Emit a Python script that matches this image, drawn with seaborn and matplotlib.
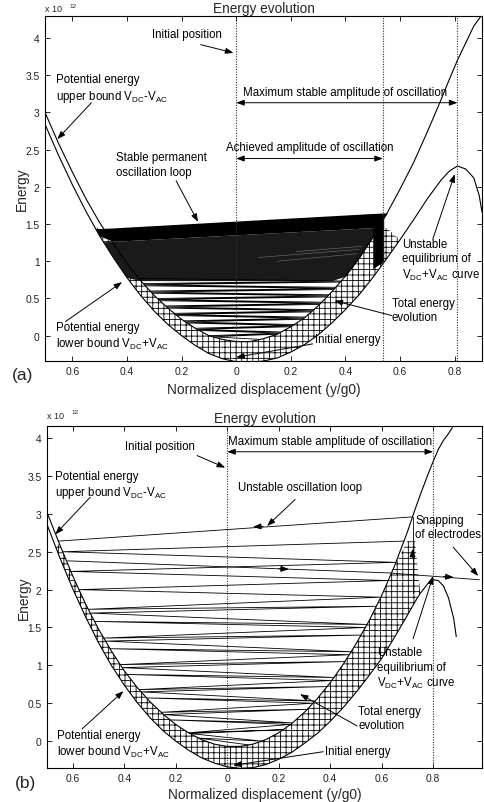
import numpy as np
import matplotlib
matplotlib.use("Agg")
import matplotlib.pyplot as plt
import seaborn as sns

# ---------------- data: panel (a) ----------------
xa = [-0.70, -0.65, -0.60, -0.55, -0.50, -0.45, -0.40, -0.35, -0.30, -0.25,
      -0.20, -0.15, -0.10, -0.05, 0.00, 0.05, 0.10, 0.15, 0.20, 0.25,
      0.30, 0.35, 0.40, 0.45, 0.50, 0.55, 0.60, 0.65, 0.70, 0.75,
      0.78, 0.81, 0.84, 0.87, 0.89, 0.90]
ua_low = [2.84, 2.42, 2.03, 1.67, 1.34, 1.05, 0.78, 0.54, 0.33, 0.15,
          0.00, -0.13, -0.24, -0.31, -0.35, -0.36, -0.34, -0.30, -0.22, -0.12,
          0.01, 0.17, 0.35, 0.55, 0.78, 1.03, 1.29, 1.56, 1.84, 2.09,
          2.21, 2.28, 2.24, 2.12, 1.88, 1.66]
ua_up = [3.00, 2.58, 2.20, 1.84, 1.52, 1.24, 0.97, 0.74, 0.54, 0.37,
         0.22, 0.10, 0.00, -0.05, -0.08, -0.08, -0.04, 0.02, 0.12, 0.24,
         0.40, 0.59, 0.80, 1.04, 1.32, 1.63, 1.97, 2.33, 2.74, 3.17,
         3.44, 3.70, 3.93, 4.16, 4.26, 4.31]
traj_a = [-0.05, -0.015, 0.02, 0.00, 0.035, 0.07, 0.05, 0.085, 0.12, 0.10,
          0.135, 0.17, 0.15, 0.185, 0.22, 0.20, 0.235, 0.27, 0.25, 0.285,
          0.32, 0.30, 0.335, 0.37, 0.35, 0.385, 0.42, 0.40, 0.435, 0.47,
          0.45, 0.485, 0.52, 0.50, 0.535, 0.57, 0.55, 0.585, 0.62, 0.60,
          0.635, 0.67, 0.65, 0.685, 0.72, 0.70, 0.735, 0.77]
loop_x = [-0.49, 0.54]
loop_top = [1.44, 1.65]
loop_bot = [1.26, 1.46]
strip_x = [0.50, 0.54]
strip_top = [1.46, 1.65]
strip_bot = [0.90, 1.00]
streak_x = [[0.08, 0.45], [0.15, 0.44], [0.22, 0.46]]
streak_E = [[1.05, 1.16], [1.00, 1.10], [1.13, 1.20]]
dense_floor_a = 0.74
hatch_cap_a = 1.45
marks_a = [0.0, 0.537, 0.81]

# ---------------- data: panel (b) ----------------
xb = [-0.70, -0.65, -0.60, -0.55, -0.50, -0.45, -0.40, -0.35, -0.30, -0.25,
      -0.20, -0.15, -0.10, -0.05, 0.00, 0.05, 0.10, 0.15, 0.20, 0.25,
      0.30, 0.35, 0.40, 0.45, 0.50, 0.55, 0.60, 0.65, 0.70, 0.73,
      0.75, 0.78, 0.80, 0.82, 0.84, 0.86, 0.88, 0.89]
ub_low = [2.86, 2.42, 2.01, 1.64, 1.30, 1.00, 0.74, 0.51, 0.31, 0.14,
          0.00, -0.12, -0.22, -0.29, -0.34, -0.36, -0.35, -0.31, -0.24, -0.15,
          -0.03, 0.10, 0.26, 0.44, 0.64, 0.86, 1.09, 1.37, 1.66, 1.84,
          1.95, 2.08, 2.13, 2.12, 2.05, 1.89, 1.62, 1.38]
ub_up = [3.02, 2.59, 2.18, 1.81, 1.48, 1.19, 0.93, 0.71, 0.52, 0.36,
         0.22, 0.11, 0.02, -0.04, -0.07, -0.07, -0.04, 0.02, 0.11, 0.23,
         0.38, 0.56, 0.77, 1.01, 1.28, 1.58, 1.92, 2.31, 2.76, 3.06,
         3.25, 3.52, 3.69, 3.85, 3.97, 4.06, 4.17, 4.22]
traj_b = [-0.05, 0.04, 0.00, 0.10, 0.15, 0.11, 0.22, 0.28, 0.24, 0.35,
          0.42, 0.38, 0.50, 0.57, 0.53, 0.65, 0.72, 0.68, 0.80, 0.88,
          0.84, 0.97, 1.05, 1.01, 1.14, 1.22, 1.18, 1.32, 1.40, 1.36,
          1.50, 1.58, 1.54, 1.69, 1.78, 1.74, 1.90, 2.00, 2.12, 2.24,
          2.36, 2.50, 2.64]
loop_b_x = [0.72, -0.657]
loop_b_E = [2.96, 2.64]
snap_x = [0.72, 0.72]
snap_E = [1.95, 2.96]
escape_x = [-0.62, 0.63, 0.98]
escape_E = [2.38, 2.22, 2.13]
hatch_cap_b = 2.64
hatch_xmax_b = 0.73
marks_b = [0.0, 0.80]

xtick_vals = [-0.6, -0.4, -0.2, 0.0, 0.2, 0.4, 0.6, 0.8]
xtick_labels = ["0.6", "0.4", "0.2", "0", "0.2", "0.4", "0.6", "0.8"]
ytick_vals = [0, 0.5, 1, 1.5, 2, 2.5, 3, 3.5, 4]
ytick_labels = ["0", "0.5", "1", "1.5", "2", "2.5", "3", "3.5", "4"]

# ---------------- style ----------------
sns.set_theme(style="ticks")
plt.rcParams["font.family"] = ["Liberation Sans", "DejaVu Sans"]
plt.rcParams["mathtext.fontset"] = "custom"
plt.rcParams["mathtext.rm"] = "Liberation Sans"
plt.rcParams["mathtext.it"] = "Liberation Sans:italic"
plt.rcParams["mathtext.bf"] = "Liberation Sans:bold"
plt.rcParams["hatch.linewidth"] = 0.6
plt.rcParams["hatch.color"] = "black"

W, H = 485, 803
fig = plt.figure(figsize=(W / 100, H / 100), dpi=100)


def add_ax(l, t, r, b):
    return fig.add_axes([l / W, 1 - b / H, (r - l) / W, (b - t) / H])


ax1 = add_ax(45, 17, 482, 362)
ax2 = add_ax(47, 427, 482, 769)

FS = 8.3
AP = dict(arrowstyle="-|>,head_length=0.6,head_width=0.22", color="black",
          lw=0.7, mutation_scale=8, shrinkA=0, shrinkB=0)
DAP = dict(arrowstyle="<|-|>,head_length=0.6,head_width=0.22", color="black",
           lw=0.7, mutation_scale=8, shrinkA=0, shrinkB=0)


def style(ax, xlim, ylim, xlabelpad):
    ax.set_xlim(*xlim)
    ax.set_ylim(*ylim)
    ax.set_xticks(xtick_vals)
    ax.set_xticklabels(xtick_labels)
    ax.set_yticks(ytick_vals)
    ax.set_yticklabels(ytick_labels)
    ax.tick_params(direction="in", top=True, right=True, length=3.5, width=0.6,
                   labelsize=7.4, colors="black", labelcolor="#222222")
    ax.tick_params(axis="x", pad=3.5)
    ax.tick_params(axis="y", pad=4)
    for s in ax.spines.values():
        s.set_visible(True)
        s.set_linewidth(0.8)
        s.set_color("black")
    ax.set_title("Energy evolution", fontsize=9.8, pad=3)
    ax.set_xlabel("Normalized displacement (y/g0)", fontsize=9.9, labelpad=xlabelpad)
    ax.set_ylabel("Energy", fontsize=9.9, labelpad=-2.5)


def wall_points(E_seq, xs, us, start="R"):
    xs = np.asarray(xs, float)
    us = np.asarray(us, float)
    i0 = int(np.argmin(us))
    xl, ul = xs[:i0 + 1][::-1], us[:i0 + 1][::-1]
    xr, ur = xs[i0:], us[i0:]
    j = int(np.argmax(ur))
    xr, ur = xr[:j + 1], ur[:j + 1]
    out = []
    side = start
    for E in E_seq:
        out.append(np.interp(E, ur, xr) if side == "R" else np.interp(E, ul, xl))
        side = "L" if side == "R" else "R"
    return np.array(out)


def curves(ax, xs, lo, up):
    sns.lineplot(x=xs, y=lo, ax=ax, color="black", lw=0.8, estimator=None,
                 sort=False, legend=False)
    sns.lineplot(x=xs, y=up, ax=ax, color="black", lw=0.8, estimator=None,
                 sort=False, legend=False)


def mid_arrow(ax, x, y, dx, dy):
    ax.annotate("", xy=(x + dx, y + dy), xytext=(x, y), arrowprops=AP)


# ================= panel (a) =================
XA = np.array(xa)
LA = np.array(ua_low)
UA = np.array(ua_up)

upper = np.minimum(UA, hatch_cap_a)
m = (XA >= -0.5) & (XA <= 0.55)
ax1.fill_between(XA, LA, upper, where=m & (LA < upper), interpolate=True,
                 facecolor="white", edgecolor="black", hatch="+++", linewidth=0)

# transient total-energy sweeps
ax1.plot(wall_points(traj_a, xa, ua_up), traj_a, color="black", lw=0.6)

# dense (nearly black) region and stable loop
wall_a = np.where(XA < 0, LA, UA)
top_a = np.interp(XA, loop_x, loop_top)
bot_a = np.interp(XA, loop_x, loop_bot)
mm = (XA >= -0.55) & (XA <= 0.55)
lo1 = np.maximum(wall_a, dense_floor_a)
ax1.fill_between(XA, lo1, bot_a, where=mm & (lo1 < bot_a), interpolate=True,
                 color="#1a1a1a", lw=0)
for sx, se in zip(streak_x, streak_E):
    ax1.plot(sx, se, color="#6a6a6a", lw=0.45)
lo2 = np.maximum(wall_a, bot_a)
ax1.fill_between(XA, lo2, top_a, where=mm & (lo2 < top_a), interpolate=True,
                 color="black", lw=0)
ax1.fill_between(strip_x, strip_bot, strip_top, color="black", lw=0)

curves(ax1, xa, ua_low, ua_up)
for xv in marks_a:
    ax1.axvline(xv, color="#333333", lw=0.8, ls=(0, (1, 1.3)))

style(ax1, (-0.70, 0.90), (-0.34, 4.295), 4.5)

t = dict(fontsize=FS, color="black")
ax1.text(-0.307, 4.05, "Initial position", va="center", **t)
ax1.annotate("", xy=(-0.01, 3.80), xytext=(-0.13, 3.91), arrowprops=AP)
ax1.text(-0.66, 3.32, "Potential energy\nupper bound V$_{\\rm DC}$-V$_{\\rm AC}$",
         va="center", linespacing=1.25, **t)
ax1.annotate("", xy=(-0.655, 2.64), xytext=(-0.53, 3.13), arrowprops=AP)
ax1.text(0.40, 3.27, "Maximum stable amplitude of oscillation", ha="center",
         va="center", **t)
ax1.annotate("", xy=(0.81, 3.13), xytext=(0.0, 3.13), arrowprops=DAP)
ax1.text(0.27, 2.54, "Achieved amplitude of oscillation", ha="center",
         va="center", **t)
ax1.annotate("", xy=(0.537, 2.38), xytext=(0.0, 2.38), arrowprops=DAP)
ax1.text(-0.44, 2.30, "Stable permanent\noscillation loop", va="center",
         linespacing=1.25, **t)
ax1.annotate("", xy=(-0.14, 1.53), xytext=(-0.22, 2.08), arrowprops=AP)
ax1.text(0.607, 1.02, "Unstable\nequilibrium of\nV$_{\\rm DC}$+V$_{\\rm AC}$ curve",
         va="center", linespacing=1.25, **t)
ax1.annotate("", xy=(0.80, 2.17), xytext=(0.72, 1.30), arrowprops=AP)
ax1.text(0.57, 0.35, "Total energy\nevolution", va="center", linespacing=1.25, **t)
ax1.annotate("", xy=(0.36, 0.47), xytext=(0.57, 0.27), arrowprops=AP)
ax1.text(0.29, -0.05, "Initial energy", va="center", **t)
ax1.annotate("", xy=(0.0, -0.29), xytext=(0.28, -0.11), arrowprops=AP)
ax1.text(-0.66, 0.0, "Potential energy\nlower bound V$_{\\rm DC}$+V$_{\\rm AC}$",
         va="center", linespacing=1.25, **t)
ax1.annotate("", xy=(-0.418, 0.72), xytext=(-0.625, 0.19), arrowprops=AP)

# ================= panel (b) =================
XB = np.array(xb)
LB = np.array(ub_low)
UB = np.array(ub_up)
upper_b = np.minimum(UB, hatch_cap_b)
mb = XB <= hatch_xmax_b
ax2.fill_between(XB, LB, upper_b, where=mb & (LB < upper_b), interpolate=True,
                 facecolor="white", edgecolor="black", hatch="+++", linewidth=0)

ax2.plot(wall_points(traj_b, xb, ub_up), traj_b, color="black", lw=0.6)
ax2.plot(loop_b_x, loop_b_E, color="black", lw=0.6)
ax2.plot(snap_x, snap_E, color="black", lw=0.6)
ax2.plot(escape_x, escape_E, color="black", lw=0.6)

curves(ax2, xb, ub_low, ub_up)
for xv in marks_b:
    ax2.axvline(xv, color="#333333", lw=0.8, ls=(0, (1, 1.3)))

# arrowheads along the trajectory
mid_arrow(ax2, 0.14, 2.836, -0.04, -0.009)
mid_arrow(ax2, 0.20, 2.275, 0.04, -0.005)
mid_arrow(ax2, 0.84, 2.172, 0.04, -0.009)
mid_arrow(ax2, 0.72, 2.42, 0.0, 0.12)

style(ax2, (-0.70, 0.99), (-0.355, 4.16), 3.0)

ax2.text(-0.396, 3.90, "Initial position", va="center", **t)
ax2.annotate("", xy=(-0.008, 3.61), xytext=(-0.117, 3.77), arrowprops=AP)
ax2.text(0.40, 3.96, "Maximum stable amplitude of oscillation", ha="center",
         va="center", **t)
ax2.annotate("", xy=(0.80, 3.82), xytext=(0.0, 3.82), arrowprops=DAP)
ax2.text(-0.668, 3.38, "Potential energy\nupper bound V$_{\\rm DC}$-V$_{\\rm AC}$",
         va="center", linespacing=1.25, **t)
ax2.annotate("", xy=(-0.668, 2.73), xytext=(-0.532, 3.22), arrowprops=AP)
ax2.text(0.043, 3.35, "Unstable oscillation loop", va="center", **t)
ax2.annotate("", xy=(0.155, 2.84), xytext=(0.264, 3.19), arrowprops=AP)
ax2.text(0.73, 2.83, "Snapping\nof electrodes", va="center", linespacing=1.25, **t)
ax2.annotate("", xy=(0.975, 2.18), xytext=(0.878, 2.56), arrowprops=AP)
ax2.text(0.583, 0.96, "Unstable\nequilibrium of\nV$_{\\rm DC}$+V$_{\\rm AC}$ curve",
         va="center", linespacing=1.25, **t)
ax2.annotate("", xy=(0.80, 2.18), xytext=(0.722, 1.35), arrowprops=AP)
ax2.text(0.509, 0.31, "Total energy\nevolution", va="center", linespacing=1.25, **t)
ax2.annotate("", xy=(0.283, 0.62), xytext=(0.505, 0.20), arrowprops=AP)
ax2.text(0.38, -0.13, "Initial energy", va="center", **t)
ax2.annotate("", xy=(0.023, -0.32), xytext=(0.373, -0.14), arrowprops=AP)
ax2.text(-0.66, -0.04, "Potential energy\nlower bound V$_{\\rm DC}$+V$_{\\rm AC}$",
         va="center", linespacing=1.25, **t)
ax2.annotate("", xy=(-0.403, 0.66), xytext=(-0.564, 0.16), arrowprops=AP)

# ---- figure-level texts ----
for (px, py) in [(45, 10), (47, 417)]:
    fig.text(px / W, 1 - py / H, "x 10", fontsize=6.5, va="center")
    fig.text((px + 24) / W, 1 - (py - 4) / H, "12", fontsize=4.6, va="center")
fig.text(12 / W, 1 - 376 / H, "(a)", fontsize=12.5, va="center")
fig.text(15 / W, 1 - 784 / H, "(b)", fontsize=12.5, va="center")

fig.savefig("out.png", dpi=100)
